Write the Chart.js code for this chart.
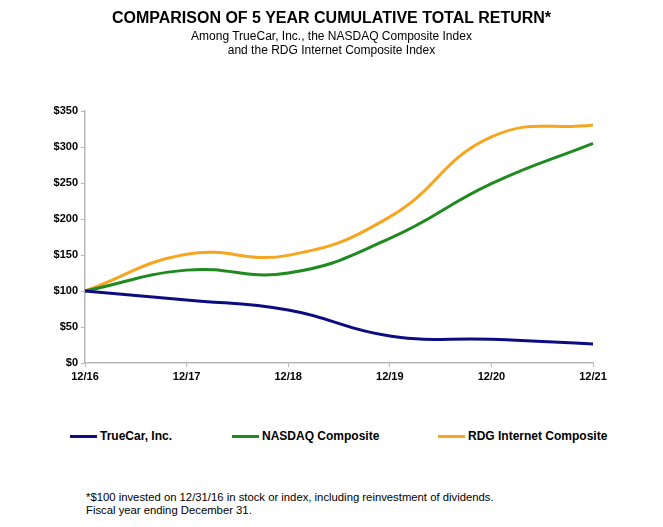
<!DOCTYPE html>
<html>
<head>
<meta charset="utf-8">
<script src="https://cdn.jsdelivr.net/npm/chart.js@4/dist/chart.umd.min.js"></script>
<style>
  body { margin: 0; background: #fff; font-family: "Liberation Sans", Arial, sans-serif; color: #000; }
  .page { position: relative; width: 663px; height: 527px; overflow: hidden; }
  .title { position: absolute; top: 9px; left: 0; width: 663px; text-align: center; font-weight: bold; font-size: 16px; }
  .sub { position: absolute; left: 0; width: 663px; text-align: center; font-size: 12px; }
  #chartWrap { position: absolute; left: 0; top: 0; width: 663px; height: 400px; }
  .legend-item { position: absolute; top: 429px; font-weight: bold; font-size: 12px; display: flex; align-items: center; }
  .legend-item .swatch { display: inline-block; width: 27px; height: 3px; margin-right: 3px; }
  .foot { position: absolute; left: 86px; font-size: 11.3px; }
</style>
</head>
<body>
<div class="page">
  <div id="chartWrap"><canvas id="returnChart"></canvas></div>
  <div class="title">COMPARISON OF 5 YEAR CUMULATIVE TOTAL RETURN*</div>
  <div class="sub" style="top:29px;">Among TrueCar, Inc., the NASDAQ Composite Index</div>
  <div class="sub" style="top:43px;">and the RDG Internet Composite Index</div>
  <div id="legend"></div>
  <div class="foot" style="top:491px;">*$100 invested on 12/31/16 in stock or index, including reinvestment of dividends.</div>
  <div class="foot" style="top:504px;">Fiscal year ending December 31.</div>
</div>
<script>
  // Data
  const years = ["12/16", "12/17", "12/18", "12/19", "12/20", "12/21"];
  const trueCar = [100, 87.5, 73.5, 37.5, 33, 26.5];
  const nasdaq = [100, 129, 125, 173, 249, 305];
  const rdg = [100, 151, 149.5, 203, 314, 330.5];
  const yTicks = [0, 50, 100, 150, 200, 250, 300, 350];

  const seriesNames = ["TrueCar, Inc.", "NASDAQ Composite", "RDG Internet Composite"];
  const seriesColors = ["#0c0c82", "#1f8a1f", "#f7a51e"];
  const legendLeft = [70, 232, 438];

  const legend = document.getElementById("legend");
  seriesNames.forEach((name, i) => {
    const item = document.createElement("div");
    item.className = "legend-item";
    item.style.left = legendLeft[i] + "px";
    item.innerHTML = `<span class="swatch" style="background:${seriesColors[i]}"></span>${name}`;
    legend.appendChild(item);
  });

  const axisFont = { family: "'Liberation Sans', Arial, sans-serif", size: 11, weight: "bold" };
  const axisGray = "#b8b8b8";

  new Chart(document.getElementById("returnChart"), {
    type: "line",
    data: {
      labels: years,
      datasets: [trueCar, nasdaq, rdg].map((vals, i) => ({
        label: seriesNames[i],
        data: vals,
        borderColor: seriesColors[i],
        borderWidth: 3,
        pointRadius: 0,
        tension: 0.45,
        fill: false
      }))
    },
    options: {
      responsive: true,
      maintainAspectRatio: false,
      animation: false,
      layout: { padding: { top: 111, right: 70, left: 0, bottom: 0 } },
      plugins: { legend: { display: false }, tooltip: { enabled: false } },
      scales: {
        x: {
          offset: false,
          border: { color: axisGray, width: 1.5 },
          grid: { drawOnChartArea: false, drawTicks: true, tickLength: 4, color: axisGray },
          ticks: { color: "#000", font: axisFont, padding: 3, maxRotation: 0, autoSkip: false },
          afterFit: (scale) => { scale.height = 37; }
        },
        y: {
          min: 0,
          max: 350,
          afterBuildTicks: (scale) => { scale.ticks = yTicks.map(v => ({ value: v })); },
          border: { color: axisGray, width: 1.5 },
          grid: { drawOnChartArea: false, drawTicks: true, tickLength: 4, color: axisGray },
          ticks: { color: "#000", font: axisFont, padding: 3, callback: (v) => "$" + v },
          afterFit: (scale) => { scale.width = 85; }
        }
      }
    }
  });
</script>
</body>
</html>
